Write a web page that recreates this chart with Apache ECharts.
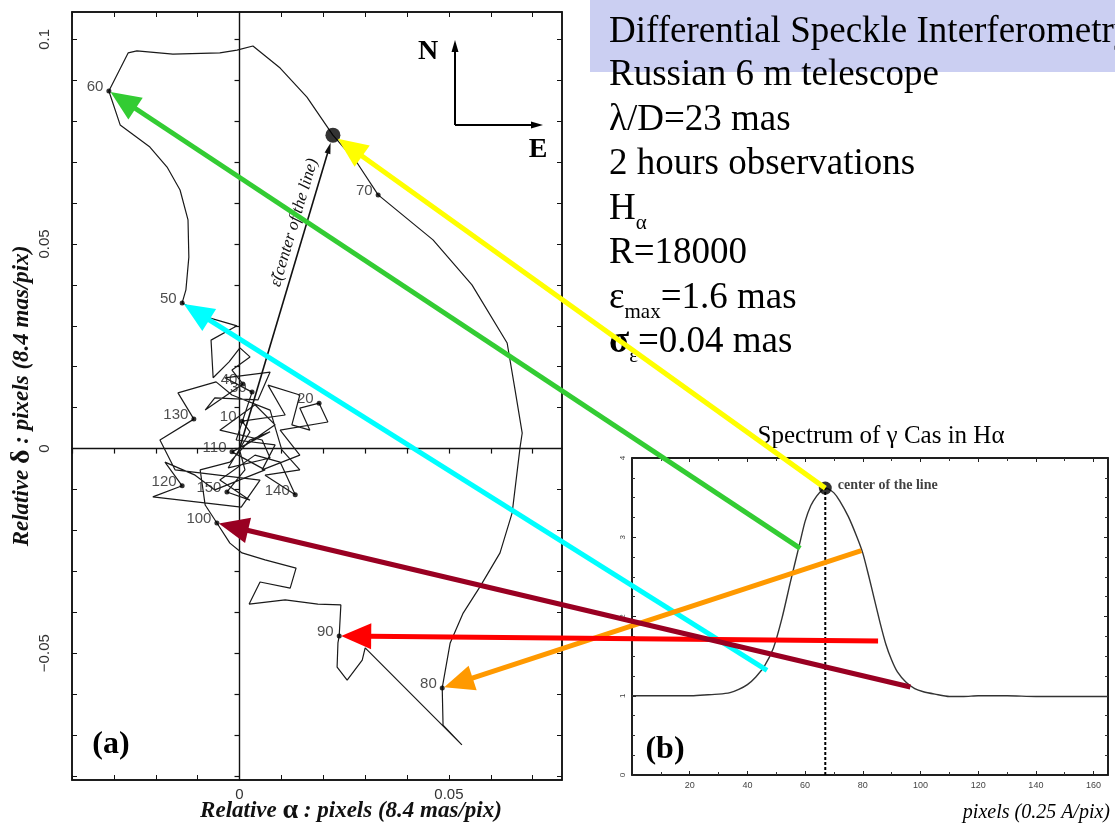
<!DOCTYPE html>
<html><head><meta charset="utf-8">
<script src="https://cdn.jsdelivr.net/npm/echarts@6/dist/echarts.min.js"></script>
<style>html,body{margin:0;padding:0;background:#fff}#c{width:1115px;height:825px}</style>
</head><body><div id="c"></div><script>
// ---- trajectory of the photocentre (panel a), relative alpha / delta in pixels ----
const trajAlpha = [0.0008,0.0085,0.0037,-0.0047,0.0054,0.0073,-0.0027,0.0025,0.0006,
0.0109,0.0068,0.0144,0.0125,0.0168,0.0144,0.0190,
0.0211,0.0097,0.0144,0.0054,0.0085,-0.0008,0.0030,
-0.0035,0.0073,0.0044,-0.0059,-0.0082,0.0008,
-0.0018,0.0025,0.0001,-0.0025,-0.0063,-0.0068,-0.0006,-0.0070,-0.0137,
-0.0128,-0.0121,-0.0123,-0.0142,-0.0173,-0.0214,-0.0285,-0.0312,
-0.0266,-0.0245,-0.0159,-0.0047,-0.0006,0.0032,0.0097,0.0161,0.0223,
0.0281,0.0331,0.0462,0.0555,0.0639,0.0658,0.0675,0.0670,0.0651,0.0622,
0.0574,0.0534,0.0503,0.0484,0.0486,0.0531,0.0300,0.0293,0.0257,0.0233,
0.0235,0.0238,0.0242,0.0187,0.0109,0.0023,0.0049,0.0121,0.0135,0.0061,
0.0006,-0.0023,-0.0054,-0.0082,-0.0094,-0.0023,0.0025,0.0073,
-0.0018,0.0061,-0.0059,-0.0106,-0.0178,-0.0137,-0.0207,0.0004,0.0049,-0.0154,-0.0190,-0.0109,
-0.0147,-0.0056,-0.0018,0.0073,0.0101,0.0144,0.0061,0.0133,
0.0097,0.0037,-0.0047,0.0025,-0.0030,0.0013,-0.0001];
const trajDelta = [0.0004,0.0058,0.0107,0.0045,0.0021,-0.0023,-0.0047,0.0041,0.0067,
0.0082,0.0155,0.0131,0.0058,0.0045,0.0099,0.0111,
0.0065,0.0045,-0.0016,-0.0052,0.0009,0.0021,0.0138,
0.0173,0.0187,0.0119,0.0124,0.0094,0.0158,
0.0192,0.0224,0.0246,0.0212,0.0173,0.0265,0.0300,0.0319,0.0356,
0.0388,0.0468,0.0559,0.0632,0.0688,0.0737,0.0791,0.0874,
0.0967,0.0972,0.0964,0.0967,0.0974,0.0984,0.0930,0.0859,0.0766,
0.0698,0.0620,0.0510,0.0400,0.0258,0.0143,0.0038,0.0004,-0.0157,-0.0255,
-0.0338,-0.0402,-0.0475,-0.0585,-0.0676,-0.0724,-0.0487,-0.0517,-0.0566,-0.0534,
-0.0475,-0.0458,-0.0382,-0.0380,-0.0370,-0.0380,-0.0326,-0.0341,-0.0292,-0.0272,
-0.0255,-0.0231,-0.0182,-0.0138,-0.0052,-0.0033,0.0021,0.0041,
-0.0008,-0.0052,-0.0101,-0.0065,-0.0033,-0.0091,-0.0118,-0.0143,-0.0077,-0.0052,0.0021,0.0072,
0.0136,0.0163,0.0131,0.0094,-0.0003,-0.0052,-0.0065,-0.0113,
-0.0033,-0.0016,-0.0077,-0.0126,-0.0106,-0.0052,0.0001];
const markerLabels = ['10','20','30','40','50','60','70','80','90','100','110','120','130','140','150'];
const markerIndex = [8,15,22,28,37,45,56,68,76,87,93,98,104,112,117];
const centerIndex = 54;   // photocentre at the centre of the line

// ---- spectrum (panel b) ----
const specX = [0,10,20,25,30,34,37,40,43,46,49,52,55,58,60,62,64,66,67,68,70,72,75,78,80,82,84,86,88,90,92,95,98,101,105,110,115,120,130,140,150,160,165];
const specY = [1.00,1.00,1.00,1.01,1.02,1.04,1.08,1.14,1.24,1.38,1.60,1.98,2.45,2.90,3.20,3.40,3.52,3.60,3.62,3.61,3.56,3.46,3.26,3.00,2.80,2.52,2.22,1.92,1.65,1.45,1.30,1.17,1.09,1.05,1.02,0.99,0.99,1.00,1.00,0.99,0.99,0.99,0.99];
const peakX = 67, peakY = 3.62;

// ---- coloured arrows: spectrum point -> trajectory point ----
const arrowSpecX = [67, 58.3, 46.8, 79.5, 85.3, 96.5];
const arrowSpecY = [3.62, 2.86, 1.32, 2.83, 1.69, 1.11];
const arrowTarget = [54, 45, 37, 68, 76, 87];
const arrowColors = ['#ffff00','#33cc33','#00ffff','#ff9900','#ff0000','#990022'];

// ---- ticks / labels ----
const leftXTicks = [-0.04,-0.03,-0.02,-0.01,0,0.01,0.02,0.03,0.04,0.05,0.06,0.07];
const leftXLabels = [0, 0.05];
const leftYTicks = [-0.08,-0.07,-0.06,-0.05,-0.04,-0.03,-0.02,-0.01,0,0.01,0.02,0.03,0.04,0.05,0.06,0.07,0.08,0.09,0.1];
const leftYLabels = [-0.05, 0, 0.05, 0.1];
const rightXLabels = [20,40,60,80,100,120,140,160];
const rightYLabels = [0,1,2,3,4];

const infoLines = ['Differential Speckle Interferometry','Russian 6 m telescope','\u03bb/D=23 mas','2 hours observations'];

const SANS = '"Liberation Sans", Arial, sans-serif';
const SERIF = '"Liberation Serif", "Times New Roman", serif';
const fmtNum = v => v === 0 ? '0' : (v < 0 ? '\u2212' : '') + String(Math.abs(v));

const chart = echarts.init(document.getElementById('c'), null, {renderer: 'canvas'});

const lx = {min: -0.04, max: 0.077}, ly = {min: -0.081, max: 0.1067};
const frameLine = {onZero: false, lineStyle: {color: '#111', width: 1.5}};
const option = {
  animation: false,
  grid: [
    {left: 72, top: 12, width: 490, height: 768, show: true, borderColor: '#111', borderWidth: 1.5, backgroundColor: 'transparent'},
    {left: 632, top: 458, width: 476, height: 317, show: true, borderColor: '#111', borderWidth: 1.5, backgroundColor: 'transparent'}
  ],
  xAxis: [
    {gridIndex: 0, type: 'value', position: 'bottom', ...lx, axisLine: frameLine,
     axisTick: {inside: true, length: 5, customValues: leftXTicks, lineStyle: {color: '#111'}},
     axisLabel: {customValues: leftXLabels, margin: 7, color: '#333', fontFamily: SANS, fontSize: 15, formatter: fmtNum},
     splitLine: {show: false}},
    {gridIndex: 0, type: 'value', position: 'top', ...lx, axisLine: frameLine,
     axisTick: {inside: true, length: 5, customValues: leftXTicks, lineStyle: {color: '#111'}},
     axisLabel: {show: false}, splitLine: {show: false}},
    {gridIndex: 0, type: 'value', position: 'bottom', ...lx,
     axisLine: {onZero: true, onZeroAxisIndex: 0, lineStyle: {color: '#111', width: 1.4}},
     axisTick: {length: 5, customValues: leftXTicks, lineStyle: {color: '#111', width: 1.2}},
     axisLabel: {show: false}, splitLine: {show: false}},
    {gridIndex: 1, type: 'value', position: 'bottom', min: 0, max: 165, interval: 20, axisLine: frameLine,
     axisTick: {inside: true, length: 4, lineStyle: {color: '#222'}},
     minorTick: {show: true, splitNumber: 2, length: 3, lineStyle: {color: '#333'}},
     axisLabel: {customValues: rightXLabels, margin: 6, color: '#444', fontFamily: SANS, fontSize: 9},
     splitLine: {show: false}, minorSplitLine: {show: false}},
    {gridIndex: 1, type: 'value', position: 'top', min: 0, max: 165, interval: 20, axisLine: frameLine,
     axisTick: {inside: true, length: 4, lineStyle: {color: '#222'}},
     minorTick: {show: true, splitNumber: 2, length: 3, lineStyle: {color: '#333'}},
     axisLabel: {show: false}, splitLine: {show: false}, minorSplitLine: {show: false}}
  ],
  yAxis: [
    {gridIndex: 0, type: 'value', position: 'left', ...ly, axisLine: frameLine,
     axisTick: {inside: true, length: 5, customValues: leftYTicks, lineStyle: {color: '#111'}},
     axisLabel: {customValues: leftYLabels, rotate: 90, margin: 20, color: '#333', fontFamily: SANS, fontSize: 15, formatter: fmtNum},
     splitLine: {show: false},
     name: '{i|Relative }{g|\u03b4}{i| : pixels (8.4 mas/pix)}', nameLocation: 'middle', nameGap: 36, nameRotate: 90,
     nameTextStyle: {rich: {
       i: {fontFamily: SERIF, fontStyle: 'italic', fontWeight: 'bold', fontSize: 23, color: '#111'},
       g: {fontFamily: SERIF, fontWeight: 'bold', fontSize: 28, color: '#111'}}}},
    {gridIndex: 0, type: 'value', position: 'right', ...ly, axisLine: frameLine,
     axisTick: {inside: true, length: 5, customValues: leftYTicks, lineStyle: {color: '#111'}},
     axisLabel: {show: false}, splitLine: {show: false}},
    {gridIndex: 0, type: 'value', position: 'left', ...ly,
     axisLine: {onZero: true, onZeroAxisIndex: 0, lineStyle: {color: '#111', width: 1.4}},
     axisTick: {length: 5, customValues: leftYTicks, lineStyle: {color: '#111', width: 1.2}},
     axisLabel: {show: false}, splitLine: {show: false}},
    {gridIndex: 1, type: 'value', position: 'left', min: 0, max: 4, interval: 1, axisLine: frameLine,
     axisTick: {inside: true, length: 4, lineStyle: {color: '#222'}},
     minorTick: {show: true, splitNumber: 4, length: 3, lineStyle: {color: '#333'}},
     axisLabel: {customValues: rightYLabels, rotate: 90, margin: 5, color: '#444', fontFamily: SANS, fontSize: 8},
     splitLine: {show: false}, minorSplitLine: {show: false}},
    {gridIndex: 1, type: 'value', position: 'right', min: 0, max: 4, interval: 1, axisLine: frameLine,
     axisTick: {inside: true, length: 4, lineStyle: {color: '#222'}},
     minorTick: {show: true, splitNumber: 4, length: 3, lineStyle: {color: '#333'}},
     axisLabel: {show: false}, splitLine: {show: false}, minorSplitLine: {show: false}}
  ],
  series: [
    {type: 'line', xAxisIndex: 0, yAxisIndex: 0, silent: true, showSymbol: false, z: 3,
     data: trajAlpha.map((a, i) => [a, trajDelta[i]]),
     lineStyle: {color: '#1a1a1a', width: 1.2}},
    {type: 'scatter', xAxisIndex: 0, yAxisIndex: 0, silent: true, symbolSize: 5, z: 4,
     itemStyle: {color: '#000'},
     data: markerIndex.map((k, i) => ({value: [trajAlpha[k], trajDelta[k]], name: markerLabels[i]})),
     label: {show: true, position: 'left', distance: 3, offset: [0, -4], formatter: p => p.name,
             color: '#222', fontFamily: SANS, fontSize: 15}},
    {type: 'scatter', xAxisIndex: 0, yAxisIndex: 0, silent: true, symbolSize: 15, z: 5,
     itemStyle: {color: '#000'}, data: [[trajAlpha[centerIndex], trajDelta[centerIndex]]]},
    {type: 'line', xAxisIndex: 3, yAxisIndex: 3, silent: true, showSymbol: false, smooth: 0.25, z: 3,
     data: specX.map((x, i) => [x, specY[i]]), lineStyle: {color: '#333', width: 1.4}},
    {type: 'line', xAxisIndex: 3, yAxisIndex: 3, silent: true, showSymbol: false, z: 3,
     data: [[peakX, 0], [peakX, peakY]], lineStyle: {color: '#000', width: 2, type: [3, 2]}},
    {type: 'scatter', xAxisIndex: 3, yAxisIndex: 3, silent: true, symbolSize: 13, z: 5,
     itemStyle: {color: '#000'}, data: [[peakX, peakY]],
     label: {show: true, position: 'right', distance: 6, offset: [0, -3], formatter: 'center of the line',
             color: '#111', fontFamily: SERIF, fontWeight: 'bold', fontSize: 14}}
  ]
};
chart.setOption(option);

// ---------- annotations ----------
const ctx = document.createElement('canvas').getContext('2d');
function tw(text, font) { ctx.font = font; return ctx.measureText(text).width; }
function P0(a, d) { return chart.convertToPixel({seriesIndex: 0}, [a, d]); }
function P1(x, y) { return chart.convertToPixel({seriesIndex: 3}, [x, y]); }

function arrow(p1, p2, color, lw, headLen, headW, z) {
  const dx = p2[0] - p1[0], dy = p2[1] - p1[1], L = Math.hypot(dx, dy);
  const ux = dx / L, uy = dy / L, nx = -uy, ny = ux;
  const bx = p2[0] - ux * headLen, by = p2[1] - uy * headLen;
  return [
    {type: 'line', z, silent: true, shape: {x1: p1[0], y1: p1[1], x2: bx + ux * 2, y2: by + uy * 2},
     style: {stroke: color, lineWidth: lw}},
    {type: 'polygon', z, silent: true,
     shape: {points: [[p2[0], p2[1]], [bx + nx * headW / 2, by + ny * headW / 2], [bx - nx * headW / 2, by - ny * headW / 2]]},
     style: {fill: color}}
  ];
}
function txt(x, y, text, font, align, extra) {
  return Object.assign({type: 'text', z: 50, silent: true,
    style: {x, y, text, font, fill: '#000', align: align || 'left', verticalAlign: 'middle',
            textAlign: align || 'left', textVerticalAlign: 'middle'}}, extra || {});
}

const G = [];
// info block
G.push({type: 'rect', z: 1, silent: true, shape: {x: 590, y: 0, width: 525, height: 72}, style: {fill: '#cbcff2'}});
const F36 = '37px ' + SERIF, F20 = '21px ' + SERIF;
const lineY = [32, 75, 120, 164, 209, 253, 298, 342];
infoLines.forEach((t, i) => G.push(txt(609, lineY[i], t, F36)));
G.push(txt(609, lineY[4], 'H', F36));
G.push(txt(609 + tw('H', F36), lineY[4] + 14, '\u03b1', F20));
G.push(txt(609, lineY[5], 'R=18000', F36));
let xx = 609;
G.push(txt(xx, lineY[6], '\u03b5', F36)); xx += tw('\u03b5', F36);
G.push(txt(xx, lineY[6] + 14, 'max', F20)); xx += tw('max', F20);
G.push(txt(xx, lineY[6], '=1.6 mas', F36));
xx = 609;
const FB36 = 'bold 37px ' + SERIF;
G.push(txt(xx, lineY[7], '\u03c3', FB36)); xx += tw('\u03c3', FB36);
G.push(txt(xx, lineY[7] + 14, '\u03b5', F20)); xx += tw('\u03b5', F20);
G.push(txt(xx, lineY[7], '=0.04 mas', F36));

// panel titles / labels
G.push(txt(881, 436, 'Spectrum of \u03b3 Cas in H\u03b1', '25px ' + SERIF, 'center'));
G.push(txt(111, 745, '(a)', 'bold 32px ' + SERIF, 'center'));
G.push(txt(665, 750, '(b)', 'bold 32px ' + SERIF, 'center'));
G.push({type: 'text', z: 50, silent: true, style: {x: 351, y: 811, align: 'center', verticalAlign: 'middle',
  textAlign: 'center', textVerticalAlign: 'middle',
  text: '{i|Relative }{g|\u03b1}{i| : pixels (8.4 mas/pix)}',
  rich: {i: {fontFamily: SERIF, fontStyle: 'italic', fontWeight: 'bold', fontSize: 23, fill: '#111'},
         g: {fontFamily: SERIF, fontWeight: 'bold', fontSize: 28, fill: '#111'}}}});
G.push(txt(1110, 813, 'pixels (0.25 A/pix)', 'italic 20px ' + SERIF, 'right'));

// compass
G.push(...arrow([455, 125], [455, 40], '#000', 2, 12, 7, 40));
G.push(...arrow([455, 125], [543, 125], '#000', 2, 12, 7, 40));
G.push(txt(428, 52, 'N', 'bold 28px ' + SERIF, 'center'));
G.push(txt(538, 150, 'E', 'bold 28px ' + SERIF, 'center'));

// epsilon vector to the centre of the line
const o = P0(0, 0), c = P0(trajAlpha[centerIndex], trajDelta[centerIndex]);
{
  const dx = c[0] - o[0], dy = c[1] - o[1], L = Math.hypot(dx, dy), ux = dx / L, uy = dy / L;
  G.push(...arrow(o, [c[0] - ux * 8, c[1] - uy * 8], '#111', 1.6, 11, 6, 6));
  const t = 0.71, off = 12;
  const px = o[0] + dx * t + uy * off, py = o[1] + dy * t - ux * off;
  G.push({type: 'text', z: 6, silent: true, x: px, y: py, rotation: Math.atan2(-dy, dx),
    style: {x: 0, y: 0, text: '\u03b5\u0303(center of the line)', font: 'italic 17px ' + SERIF, fill: '#111',
            align: 'center', verticalAlign: 'middle', textAlign: 'center', textVerticalAlign: 'middle'}});
}

// coloured arrows
arrowColors.forEach((col, i) => {
  const p1 = P1(arrowSpecX[i], arrowSpecY[i]);
  const k = arrowTarget[i];
  const p2 = P0(trajAlpha[k], trajDelta[k]);
  const dx = p2[0] - p1[0], dy = p2[1] - p1[1], L = Math.hypot(dx, dy);
  const back = i === 0 ? 6 : 2;
  G.push(...arrow(p1, [p2[0] - dx / L * back, p2[1] - dy / L * back], col, 5, 30, 26, 60 + i));
});

chart.setOption({graphic: {elements: G}});
</script></body></html>
